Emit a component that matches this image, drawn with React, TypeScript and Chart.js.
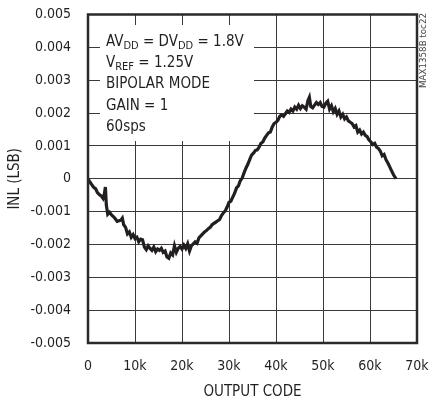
import React, { useEffect, useRef } from "react";
import { Chart, registerables } from "chart.js";

Chart.register(...registerables);

const codes = [
  0, 400, 800, 1200, 1600, 2000, 2400, 2800, 3200, 3500, 3700, 3900, 4200, 4600, 5000, 5400, 5800, 6200, 6600, 7000,
  7300, 7600, 8000, 8400, 8800, 9200, 9600, 10000, 10400, 10800, 11200, 11600, 12000, 12400, 12800, 13200, 13600, 14000, 14400, 14800,
  15200, 15600, 16000, 16400, 16800, 17200, 17600, 18000, 18400, 18800, 19200, 19600, 20000, 20400, 20800, 21200, 21600, 22000, 22400, 22800,
  23200, 23600, 24000, 24400, 24800, 25200, 25600, 26000, 26400, 26800, 27200, 27600, 28000, 28400, 28800, 29200, 29600, 30000, 30400, 30800,
  31200, 31600, 32000, 32400, 32800, 33200, 33600, 34000, 34400, 34800, 35200, 35600, 36000, 36400, 36800, 37200, 37600, 38000, 38400, 38800,
  39200, 39600, 40000, 40400, 40800, 41200, 41600, 42000, 42400, 42800, 43200, 43600, 44000, 44400, 44800, 45200, 45600, 46000, 46400, 46800,
  47100, 47400, 47800, 48200, 48600, 49000, 49400, 49800, 50200, 50600, 51000, 51400, 51800, 52200, 52600, 53000, 53400, 53800, 54200, 54600,
  55000, 55400, 55800, 56200, 56600, 57000, 57400, 57800, 58200, 58600, 59000, 59400, 59800, 60200, 60600, 61000, 61400, 61800, 62200, 62600,
  63000, 63400, 63800, 64200, 64600, 65000, 65535,
];

const inl = [
  0, -0.0001, -0.00018, -0.00026, -0.0003, -0.00042, -0.00048, -0.00052, -0.0006, -0.00045, -0.00025, -0.0008, -0.00108, -0.00102, -0.0011, -0.00115, -0.00122, -0.0013, -0.00128, -0.00126,
  -0.0012, -0.0014, -0.00148, -0.00168, -0.00162, -0.00178, -0.0017, -0.00182, -0.00178, -0.00192, -0.00184, -0.00186, -0.00208, -0.00216, -0.00204, -0.00212, -0.00218, -0.00208, -0.00222, -0.00214,
  -0.00218, -0.00212, -0.00224, -0.0022, -0.00238, -0.00242, -0.00226, -0.00232, -0.00204, -0.00224, -0.00212, -0.00206, -0.00214, -0.00202, -0.00212, -0.00198, -0.0022, -0.00204, -0.00198, -0.00192,
  -0.00196, -0.0018, -0.00174, -0.00168, -0.00162, -0.00158, -0.00152, -0.00148, -0.0014, -0.00136, -0.00132, -0.00128, -0.00124, -0.00112, -0.00104, -0.00098, -0.00086, -0.00072, -0.00068, -0.00056,
  -0.00044, -0.00028, -0.00022, -0.00006, 0.00002, 0.00018, 0.00032, 0.00044, 0.00058, 0.00072, 0.00078, 0.00086, 0.00088, 0.00096, 0.00108, 0.00112, 0.00124, 0.00132, 0.0014, 0.00142,
  0.00158, 0.00168, 0.00172, 0.00178, 0.0019, 0.00194, 0.0019, 0.00198, 0.00206, 0.00202, 0.00212, 0.00206, 0.00218, 0.00212, 0.00224, 0.00214, 0.00222, 0.00218, 0.00212, 0.00238,
  0.00248, 0.0022, 0.00216, 0.00224, 0.00232, 0.00226, 0.00232, 0.0022, 0.00218, 0.0023, 0.00236, 0.00212, 0.00222, 0.00204, 0.00214, 0.00196, 0.00206, 0.00188, 0.00196, 0.00182,
  0.00188, 0.00176, 0.00172, 0.00168, 0.00158, 0.00162, 0.00142, 0.00148, 0.00136, 0.00142, 0.00132, 0.00128, 0.00118, 0.00112, 0.00104, 0.00108, 0.00096, 0.00092, 0.00084, 0.0007,
  0.00074, 0.00058, 0.00048, 0.00036, 0.00024, 0.00012, 0,
];

const xTitle = "OUTPUT CODE";
const yTitle = "INL (LSB)";
const sideLabel = "MAX1358B toc22";

const FONT = '"DejaVu Sans Condensed", "DejaVu Sans", sans-serif';
const INK = "#231f20";
const GRID = "#3a3a3a";

export default function App() {
  const ref = useRef<HTMLCanvasElement | null>(null);

  useEffect(() => {
    document.body.style.margin = "0";
    const canvas = ref.current!;
    const overlay = {
      id: "overlay",
      afterDraw(chart: any) {
        const ctx = chart.ctx as CanvasRenderingContext2D;
        const a = chart.chartArea;
        ctx.save();
        ctx.fillStyle = "#ffffff";
        ctx.fillRect(100, 25, 154, 116);
        ctx.strokeStyle = "#2a2a2a";
        ctx.lineWidth = 2.5;
        ctx.strokeRect(a.left, a.top, a.right - a.left, a.bottom - a.top);
        ctx.fillStyle = INK;
        ctx.textBaseline = "alphabetic";
        ctx.textAlign = "left";
        const big = "15px " + FONT;
        const small = "11px " + FONT;
        const drawRich = (parts: [string, boolean][], x: number, y: number) => {
          let cx = x;
          for (const [t, sub] of parts) {
            ctx.font = sub ? small : big;
            ctx.fillText(t, cx, sub ? y + 3 : y);
            cx += ctx.measureText(t).width;
          }
        };
        const x0 = 106;
        drawRich([["AV", false], ["DD", true], [" = DV", false], ["DD", true], [" = 1.8V", false]], x0, 45.5);
        drawRich([["V", false], ["REF", true], [" = 1.25V", false]], x0, 67);
        drawRich([["BIPOLAR MODE", false]], x0, 88.3);
        drawRich([["GAIN = 1", false]], x0, 109.7);
        drawRich([["60sps", false]], x0, 131);
        ctx.font = "9px " + FONT;
        ctx.fillStyle = "#444";
        const w = ctx.measureText(sideLabel).width;
        ctx.translate(424, 88);
        ctx.rotate(-Math.PI / 2);
        ctx.scale(75 / w, 1);
        ctx.textBaseline = "middle";
        ctx.fillText(sideLabel, 0, 0);
        ctx.restore();
      },
    };

    const chart = new Chart(canvas, {
      type: "line",
      data: {
        datasets: [
          {
            data: codes.map((c, i) => ({ x: c, y: inl[i] })),
            borderColor: INK,
            borderWidth: 3.2,
            pointRadius: 0,
            tension: 0,
            fill: false,
          },
        ],
      },
      options: {
        animation: false,
        responsive: true,
        maintainAspectRatio: false,
        layout: { padding: { left: 0, right: 12, top: 14.5, bottom: 0 } },
        plugins: { legend: { display: false }, tooltip: { enabled: false } },
        scales: {
          x: {
            type: "linear",
            min: 0,
            max: 70000,
            afterFit(scale: any) {
              scale.height = 60;
              scale.paddingLeft = 0;
              scale.paddingRight = 0;
            },
            ticks: {
              stepSize: 10000,
              color: INK,
              font: { family: FONT, size: 14 },
              padding: 15,
              maxRotation: 0,
              callback: (v: any) => (Number(v) === 0 ? "0" : Number(v) / 1000 + "k"),
            },
            grid: { color: GRID, lineWidth: 1, drawTicks: false },
            border: { display: false },
            title: {
              display: true,
              text: xTitle,
              color: INK,
              font: { family: FONT, size: 15 },
              padding: { top: 0, bottom: 2 },
            },
          },
          y: {
            type: "linear",
            min: -0.005,
            max: 0.005,
            afterFit(scale: any) {
              scale.width = 88;
              scale.paddingTop = 0;
              scale.paddingBottom = 0;
            },
            ticks: {
              stepSize: 0.001,
              color: INK,
              font: { family: FONT, size: 14 },
              padding: 17,
              callback: (v: any) => (Math.abs(Number(v)) < 1e-9 ? "0" : Number(v).toFixed(3)),
            },
            grid: { color: GRID, lineWidth: 1, drawTicks: false },
            border: { display: false },
            title: {
              display: true,
              text: yTitle,
              color: INK,
              font: { family: FONT, size: 15 },
              padding: { top: 6, bottom: 0 },
            },
          },
        },
      },
      plugins: [overlay],
    } as any);
    return () => chart.destroy();
  }, []);

  return (
    <div style={{ width: 429, height: 403, position: "relative" }}>
      <canvas ref={ref} />
    </div>
  );
}
